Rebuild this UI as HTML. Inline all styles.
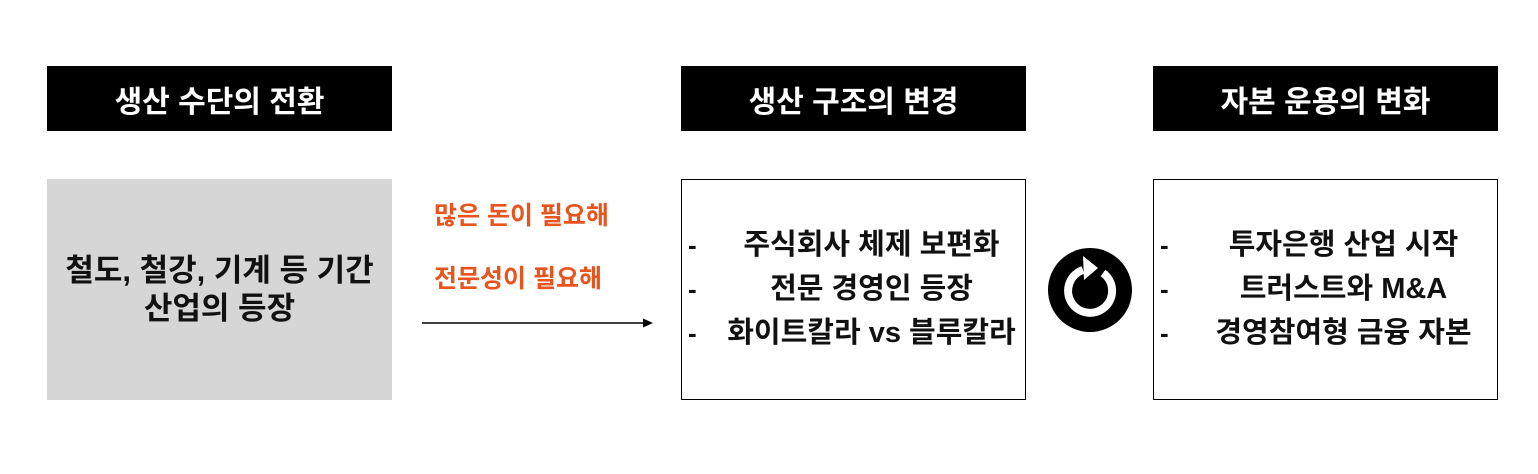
<html><head><style>
body{margin:0;width:1538px;height:474px;background:#fff;position:relative;font-family:"Liberation Sans","Noto Sans CJK KR",sans-serif;overflow:hidden}
.h{position:absolute;top:66px;height:65px;width:345px;background:#000;color:#fff;font-size:30px;font-weight:bold;display:flex;align-items:center;justify-content:center}
.b{position:absolute;top:179px;height:221px;width:345px;box-sizing:border-box}
.it{position:absolute;left:36px;right:0;font-size:29px;font-weight:bold;text-align:center;color:#111;line-height:34px}
.d{position:absolute;left:6px;font-size:26px;font-weight:bold;color:#111;line-height:34px}
.r{position:absolute;left:434px;color:#e8541e;font-size:25px;font-weight:bold}
</style></head><body>
<div class="h" style="left:47px">생산 수단의 전환</div>
<div class="h" style="left:681px">생산 구조의 변경</div>
<div class="h" style="left:1153px">자본 운용의 변화</div>
<div class="b" style="left:47px;background:#d6d6d6;display:flex;align-items:center;justify-content:center;text-align:center;font-size:31px;font-weight:bold;line-height:38px;color:#111">철도, 철강, 기계 등 기간<br>산업의 등장</div>
<div class="r" style="top:196px">많은 돈이 필요해</div>
<div class="r" style="top:259px">전문성이 필요해</div>
<svg style="position:absolute;left:0;top:0" width="1538" height="474">
<line x1="422" y1="323" x2="644" y2="323" stroke="#000" stroke-width="1.5"/>
<polygon points="653,323 643,318.5 643,327.5" fill="#000"/>
<circle cx="1090" cy="290" r="42" fill="#000"/>
<path d="M1103,273 A22,22 0 1 1 1083,270" fill="none" stroke="#fff" stroke-width="8"/>
<polygon points="1083,256 1098,268 1084,280" fill="#fff"/>
</svg>
<div class="b" style="left:681px;border:1.5px solid #000">
<div class="d" style="top:48px">-</div><div class="it" style="top:48px">주식회사 체제 보편화</div>
<div class="d" style="top:92px">-</div><div class="it" style="top:92px">전문 경영인 등장</div>
<div class="d" style="top:136px">-</div><div class="it" style="top:136px">화이트칼라 vs 블루칼라</div>
</div>
<div class="b" style="left:1153px;border:1.5px solid #000">
<div class="d" style="top:48px">-</div><div class="it" style="top:48px">투자은행 산업 시작</div>
<div class="d" style="top:92px">-</div><div class="it" style="top:92px">트러스트와 M&amp;A</div>
<div class="d" style="top:136px">-</div><div class="it" style="top:136px">경영참여형 금융 자본</div>
</div>
</body></html>
